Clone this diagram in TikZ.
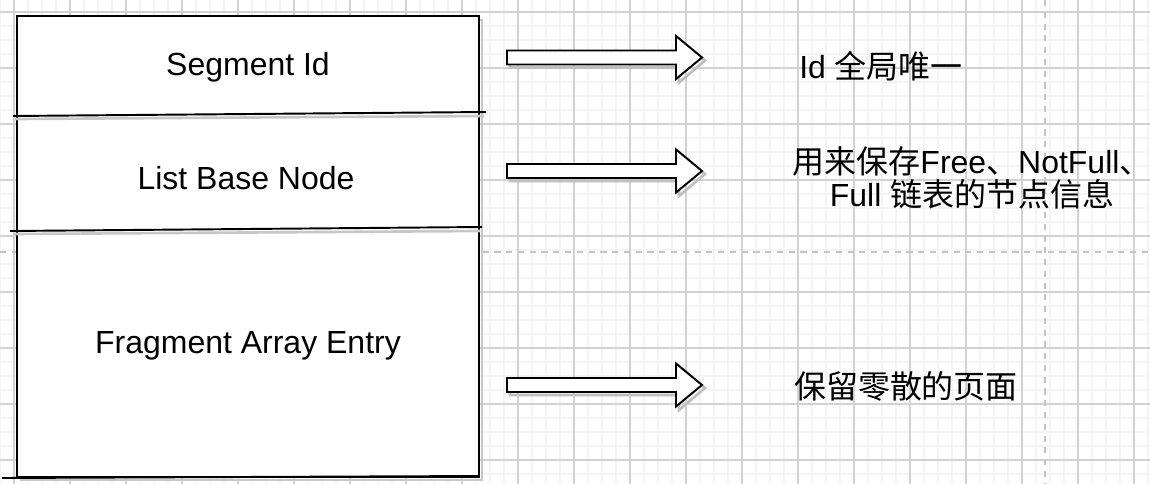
\documentclass[tikz,border=0pt]{standalone}
\usepackage{fontspec}
\setmainfont{Liberation Sans}
\newfontfamily\cjk{Noto Sans CJK SC}
\usetikzlibrary{positioning}
\definecolor{gridminor}{HTML}{F4F4F4}
\definecolor{gridmajor}{HTML}{D2D2D2}
\definecolor{pagebreak}{HTML}{C4C4C4}
\tikzset{
  grid minor/.style={draw=gridminor, line width=0.9pt},
  grid major/.style={draw=gridmajor, line width=0.6pt},
  page break/.style={draw=pagebreak, line width=1pt, dash pattern=on 3.5pt off 3.2pt},
  seg frame/.style={draw=black, line width=1.1pt, fill=white},
  seg shadow/.style={draw=black!22, line width=1.5pt},
  seg label/.style={font=\fontsize{18.2}{22}\selectfont, inner sep=0pt},
  note label/.style={font=\fontsize{18.2}{18.8}\selectfont, align=center, inner sep=0pt},
  block arrow/.style={draw=black, line width=1.1pt, fill=white, line join=miter},
  block shadow/.style={draw=black!25, line width=1.5pt},
}

\begin{document}
\begin{tikzpicture}[x=0.02cm, y=-0.02cm]
  \useasboundingbox (0,0) rectangle (1150,484);

  % --- background grid (draw.io canvas) ---
  \foreach \gx in {0,14,...,1148} \draw[grid minor] (\gx,0) -- (\gx,484);
  \foreach \gy in {-2,12,...,484} \draw[grid minor] (0,\gy) -- (1150,\gy);
  \foreach \gx in {14,70,...,1148} \draw[grid major] (\gx,0) -- (\gx,484);
  \foreach \gy in {12,68,...,484} \draw[grid major] (0,\gy) -- (1150,\gy);

  % --- page breaks ---
  \draw[page break] (1045,0) -- (1045,484);
  \draw[page break] (0,252) -- (1150,252);

  % --- segment layout box ---
  \draw[seg shadow] (21,20) rectangle (482,480);
  \draw[seg frame] (17,16) rectangle (479,477);
  \draw[line width=1.1pt] (2,478) -- (479,476);
  \draw[line width=1.1pt] (13,116) -- (486,112);
  \draw[seg shadow] (15,119) -- (484,116);
  \draw[line width=1.1pt] (10,231) -- (482,227);
  \draw[seg shadow] (13,234) -- (480,231);

  \node[seg label] (segid)     at (248,67)  {Segment Id};
  \node[seg label] (listbase)  at (246,178) {List Base Node};
  \node[seg label] (fragentry) at (248,346) {Fragment Array Entry};

  % --- block arrows ---
  \foreach \ay in {57.5,171,385} {
    \draw[block shadow] (510,\ay-4) -- (679,\ay-4) -- (679,\ay-19) -- (705,\ay+3)
      -- (679,\ay+25) -- (679,\ay+10) -- (510,\ay+10) -- cycle;
    \draw[block arrow] (507,\ay-7) -- (676,\ay-7) -- (676,\ay-21.5) -- (702,\ay)
      -- (676,\ay+21.5) -- (676,\ay+7) -- (507,\ay+7) -- cycle;
  }

  % --- notes ---
  \node[note label] (idnote)   at (881,66)  {Id {\cjk 全局唯一}};
  \node[note label] (listnote) at (972,178)
    {{\cjk 用来保存}Free{\cjk 、}NotFull{\cjk 、}\\Full {\cjk 链表的节点信息}};
  \node[note label] (fragnote) at (906,386) {\cjk 保留零散的页面};

\end{tikzpicture}
\end{document}
